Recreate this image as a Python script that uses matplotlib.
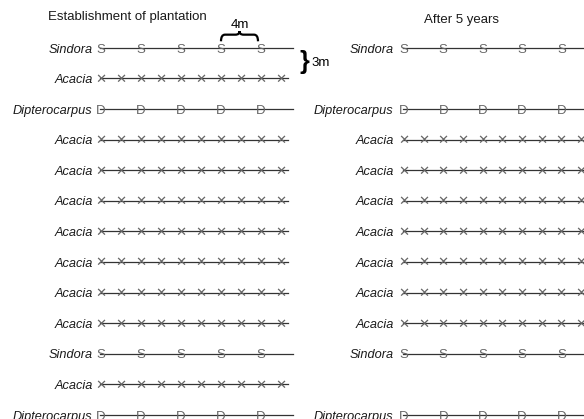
import matplotlib
matplotlib.use('Agg')
import matplotlib.pyplot as plt
from matplotlib.path import Path
from matplotlib.patches import PathPatch

plt.rcParams['font.family'] = ['Liberation Sans', 'DejaVu Sans']

# row layout (one row every 3 m), None = row removed
rows_start = ['Sindora', 'Acacia', 'Dipterocarpus'] + ['Acacia'] * 7 + ['Sindora', 'Acacia', 'Dipterocarpus']
rows_after = ['Sindora', None, 'Dipterocarpus'] + ['Acacia'] * 7 + ['Sindora', None, 'Dipterocarpus']
row_gap = 3

# tree positions along a row (m) and symbol per species
tree_pos = {
    'Sindora': [0, 4, 8, 12, 16],
    'Dipterocarpus': [0, 4, 8, 12, 16],
    'Acacia': [0, 2, 4, 6, 8, 10, 12, 14, 16, 18],
}
line_end = {'Sindora': 19.3, 'Dipterocarpus': 19.3, 'Acacia': 18.8}
symbol = {'Sindora': 'S', 'Dipterocarpus': 'D', 'Acacia': '\u2715'}

titles = ['Establishment of plantation', 'After 5 years']

fig = plt.figure(figsize=(5.84, 4.19), dpi=100)
ax1 = fig.add_axes([0, 0, 300 / 584, 1])
ax2 = fig.add_axes([300 / 584, 0, 284 / 584, 1])


def draw_panel(ax, rows, label_x):
    for i, sp in enumerate(rows):
        if sp is None:
            continue
        y = i * row_gap
        ax.plot([0, line_end[sp]], [y, y], color='#333333', lw=0.9, zorder=1)
        for x in tree_pos[sp]:
            fs = 9.5 if sp == 'Acacia' else 9.5
            yoff = 0.42 if sp == 'Acacia' else 0.46
            ax.text(x + 0.1, y + yoff, symbol[sp], ha='center', va='baseline',
                    fontsize=fs, color='#666666', zorder=2)
        ax.text(label_x, y + 0.45, sp, ha='right', va='baseline',
                fontsize=9.2, style='italic', color='#1a1a1a')
    ax.set_ylim(36.4, -4.7)
    ax.axis('off')


draw_panel(ax1, rows_start, -0.75)
ax1.set_xlim(-10, 20)
draw_panel(ax2, rows_after, -0.95)
ax2.set_xlim(-10.46, 18.4)

ax1.text(2.7, -3.0, titles[0], ha='center', va='center', fontsize=9.5, color='#1a1a1a')
ax2.text(6.0, -2.75, titles[1], ha='center', va='center', fontsize=9.5, color='#1a1a1a')

# 4 m brace between two Sindora trees
x0, x1 = 12.1, 15.8
xm = (x0 + x1) / 2
yb, yt, yp = -0.65, -1.3, -1.65
verts = [(x0, yb), (x0, yt), (x0 + 0.4, yt),
         (xm - 0.4, yt), (xm, yt), (xm, yp),
         (xm, yt), (xm + 0.4, yt),
         (x1 - 0.4, yt), (x1, yt), (x1, yb)]
codes = [Path.MOVETO, Path.CURVE3, Path.CURVE3,
         Path.LINETO, Path.CURVE3, Path.CURVE3,
         Path.CURVE3, Path.CURVE3,
         Path.LINETO, Path.CURVE3, Path.CURVE3]
ax1.add_patch(PathPatch(Path(verts, codes), fill=False, lw=1.6, color='black', clip_on=False))
ax1.text(xm, -2.2, '4m', ha='center', va='center', fontsize=9.5)

# 3 m brace between first two rows
ax1.text(19.9, 1.4, '}', ha='left', va='center', fontsize=18, fontweight='bold', clip_on=False)
ax1.text(21.1, 1.5, '3m', ha='left', va='center', fontsize=9.5, clip_on=False)

fig.savefig('out.png', dpi=100)
